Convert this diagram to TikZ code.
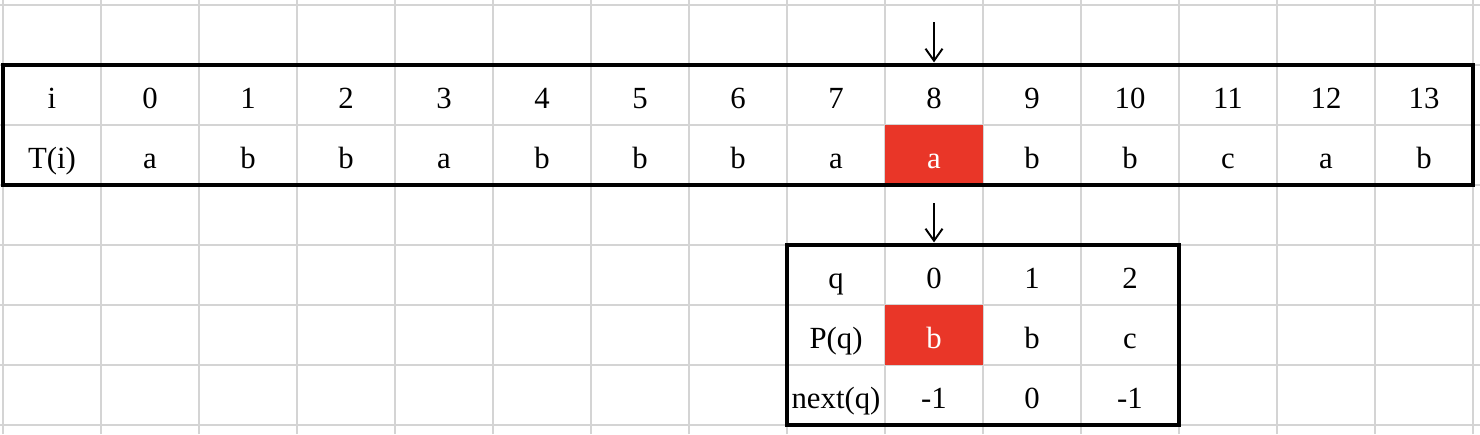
\documentclass[tikz,border=0pt]{standalone}
\usepackage{fontspec}
\setmainfont{Liberation Serif}
\usetikzlibrary{arrows.meta}
\definecolor{hlred}{RGB}{233,54,40}
\definecolor{cellgray}{RGB}{212,212,212}
\begin{document}
\begin{tikzpicture}[font=\fontsize{17.5}{21}\selectfont]
\tikzset{el/.style={rectangle, minimum width=1.96cm, minimum height=1.2cm, inner sep=0pt, outer sep=0pt,
   text height=18pt, text depth=2.3pt},
 hl/.style={el, fill=hlred, text=white},
 border/.style={draw=black, line width=2pt},
 ptr/.style={-{Straight Barb[length=2.4mm, width=3.4mm]}, line width=1.1pt}}

\useasboundingbox (0,0) rectangle (29.6,-8.68);

% Sheet grid
\begin{scope}[shift={(0.06,-0.1)}]
\draw[cellgray, line width=1pt, xstep=1.96, ystep=1.2] (-0.06,0.1) grid (29.54,-8.58);
\end{scope}

% Text T
\node[el] (hi) at (1.04,-1.9) {i};
\node[el] (i0) at (3.00,-1.9) {0};
\node[el] (i1) at (4.96,-1.9) {1};
\node[el] (i2) at (6.92,-1.9) {2};
\node[el] (i3) at (8.88,-1.9) {3};
\node[el] (i4) at (10.84,-1.9) {4};
\node[el] (i5) at (12.80,-1.9) {5};
\node[el] (i6) at (14.76,-1.9) {6};
\node[el] (i7) at (16.72,-1.9) {7};
\node[el] (i8) at (18.68,-1.9) {8};
\node[el] (i9) at (20.64,-1.9) {9};
\node[el] (i10) at (22.60,-1.9) {10};
\node[el] (i11) at (24.56,-1.9) {11};
\node[el] (i12) at (26.52,-1.9) {12};
\node[el] (i13) at (28.48,-1.9) {13};

\node[el] (ht) at (1.04,-3.1) {T(i)};
\node[el] (t0) at (3.00,-3.1) {a};
\node[el] (t1) at (4.96,-3.1) {b};
\node[el] (t2) at (6.92,-3.1) {b};
\node[el] (t3) at (8.88,-3.1) {a};
\node[el] (t4) at (10.84,-3.1) {b};
\node[el] (t5) at (12.80,-3.1) {b};
\node[el] (t6) at (14.76,-3.1) {b};
\node[el] (t7) at (16.72,-3.1) {a};
\node[hl] (t8) at (18.68,-3.1) {a};
\node[el] (t9) at (20.64,-3.1) {b};
\node[el] (t10) at (22.60,-3.1) {b};
\node[el] (t11) at (24.56,-3.1) {c};
\node[el] (t12) at (26.52,-3.1) {a};
\node[el] (t13) at (28.48,-3.1) {b};

\draw[border] (hi.north west) rectangle (t13.south east);

% Pattern P with next
\node[el] (hq) at (16.72,-5.5) {q};
\node[el] (q0) at (18.68,-5.5) {0};
\node[el] (q1) at (20.64,-5.5) {1};
\node[el] (q2) at (22.60,-5.5) {2};

\node[el] (hp) at (16.72,-6.7) {P(q)};
\node[hl] (p0) at (18.68,-6.7) {b};
\node[el] (p1) at (20.64,-6.7) {b};
\node[el] (p2) at (22.60,-6.7) {c};

\node[el] (hn) at (16.72,-7.9) {next(q)};
\node[el] (n0) at (18.68,-7.9) {-1};
\node[el] (n1) at (20.64,-7.9) {0};
\node[el] (n2) at (22.60,-7.9) {-1};

\draw[border] (hq.north west) rectangle (n2.south east);

% Pointers
\coordinate (ptrt) at (18.68,-0.44);
\coordinate (ptrp) at (18.68,-4.06);
\draw[ptr] (ptrt) -- ([yshift=1.5pt]i8.north);
\draw[ptr] (ptrp) -- ([yshift=1.5pt]q0.north);

\end{tikzpicture}
\end{document}
